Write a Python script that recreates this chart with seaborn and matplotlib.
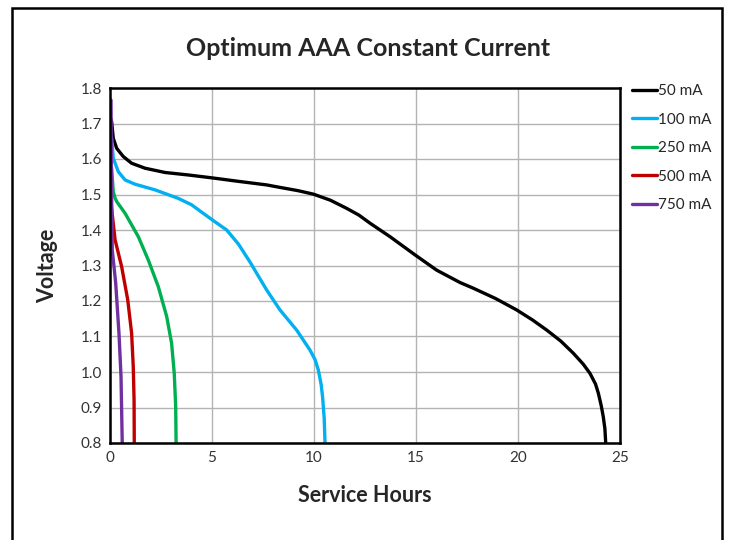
import pandas as pd
import matplotlib.pyplot as plt
import seaborn as sns
from matplotlib.patches import Rectangle

# =========================
# 1. DATA
# =========================
hours_50 = [0.0, 0.08, 0.16, 0.33, 0.65, 1.06, 1.72, 2.7, 3.84, 4.98, 6.3, 7.68, 8.33, 9.2,
            9.97, 10.8, 11.6, 12.2, 12.75, 13.73, 14.95, 16.01, 17.16, 17.81, 18.9, 19.93,
            20.7, 21.41, 22.1, 22.71, 23.2, 23.53, 23.8, 23.94, 24.08, 24.18, 24.26, 24.3]
volts_50 = [1.72, 1.705, 1.658, 1.63, 1.607, 1.588, 1.574, 1.562, 1.555, 1.547, 1.537, 1.527, 1.52, 1.511,
            1.501, 1.484, 1.461, 1.442, 1.419, 1.381, 1.33, 1.287, 1.252, 1.236, 1.207, 1.175,
            1.147, 1.118, 1.087, 1.053, 1.022, 0.996, 0.966, 0.94, 0.905, 0.874, 0.84, 0.80]

hours_100 = [0.0, 0.08, 0.16, 0.41, 0.74, 1.23, 2.21, 3.35, 4.0, 4.57, 5.1, 5.72, 6.3, 6.86,
             7.68, 8.33, 9.15, 9.8, 10.05, 10.21, 10.35, 10.42, 10.5, 10.54]
volts_100 = [1.67, 1.658, 1.602, 1.564, 1.541, 1.529, 1.513, 1.489, 1.471, 1.447, 1.425, 1.40, 1.36, 1.31,
             1.231, 1.175, 1.118, 1.062, 1.035, 1.006, 0.965, 0.93, 0.87, 0.80]

hours_250 = [0.0, 0.08, 0.16, 0.25, 0.33, 0.74, 1.39, 1.88, 2.37, 2.78, 3.02, 3.15, 3.22, 3.24]
volts_250 = [1.60, 1.574, 1.508, 1.49, 1.48, 1.447, 1.381, 1.315, 1.24, 1.156, 1.081, 0.996, 0.902, 0.80]

hours_500 = [0.0, 0.08, 0.25, 0.57, 0.87, 1.06, 1.14, 1.18, 1.19]
volts_500 = [1.50, 1.46, 1.372, 1.297, 1.203, 1.109, 1.015, 0.921, 0.80]

hours_750 = [0.05, 0.07, 0.11, 0.28, 0.44, 0.54, 0.6]
volts_750 = [1.766, 1.55, 1.344, 1.25, 1.109, 0.987, 0.80]

labels = ["50 mA", "100 mA", "250 mA", "500 mA", "750 mA"]
colors = ["#000000", "#00B0F0", "#00B050", "#C00000", "#7030A0"]

series = [(hours_50, volts_50), (hours_100, volts_100), (hours_250, volts_250),
          (hours_500, volts_500), (hours_750, volts_750)]

frames = []
for lab, (h, v) in zip(labels, series):
    frames.append(pd.DataFrame({"hours": h, "volts": v, "current": lab}))
df = pd.concat(frames, ignore_index=True)

# =========================
# 2. PLOT
# =========================
sns.set_style("white")
plt.rcParams["font.family"] = ["Lato", "DejaVu Sans"]

fig = plt.figure(figsize=(7.32, 5.4), dpi=100)
ax = fig.add_axes([110 / 732, 1 - 443 / 540, 510 / 732, 355 / 540])

sns.lineplot(data=df, x="hours", y="volts", hue="current", hue_order=labels,
             palette=colors, sort=False, estimator=None, linewidth=2.4, ax=ax)
for ln in ax.get_lines():
    ln.set_solid_joinstyle("round")
    ln.set_solid_capstyle("round")

ax.set_xlim(0, 25)
ax.set_ylim(0.8, 1.8)
ax.set_xticks([0, 5, 10, 15, 20, 25])
ax.set_yticks([0.8, 0.9, 1.0, 1.1, 1.2, 1.3, 1.4, 1.5, 1.6, 1.7, 1.8])
ax.set_yticklabels([f"{t:.1f}" for t in ax.get_yticks()])
ax.grid(True, color="#b3b3b3", linewidth=1.0)
ax.set_axisbelow(True)
for s in ax.spines.values():
    s.set_color("black")
    s.set_linewidth(1.8)
ax.tick_params(axis="both", labelsize=11, colors="#333333", length=0, pad=6)

ax.set_xlabel("Service Hours", fontsize=15.5, fontweight="bold", labelpad=14)
ax.set_ylabel("Voltage", fontsize=15.5, fontweight="bold", labelpad=16)
fig.text(368 / 732, 1 - 48 / 540, "Optimum AAA Constant Current",
         ha="center", va="center", fontsize=18, fontweight="bold")

ax.legend_.remove()
handles, _ = ax.get_legend_handles_labels()
fig.legend(handles, labels, loc="upper left", bbox_to_anchor=(626 / 732, 1 - 78 / 540),
           frameon=False, fontsize=11, handlelength=1.6, handletextpad=0.1,
           labelspacing=0.95, borderaxespad=0)

# outer chart frame
fig.patches.append(Rectangle((12 / 732, -0.05), 710 / 732, 1.05 - 8 / 540,
                             transform=fig.transFigure, fill=False,
                             edgecolor="black", linewidth=1.8))

fig.savefig("out.png", dpi=100)
